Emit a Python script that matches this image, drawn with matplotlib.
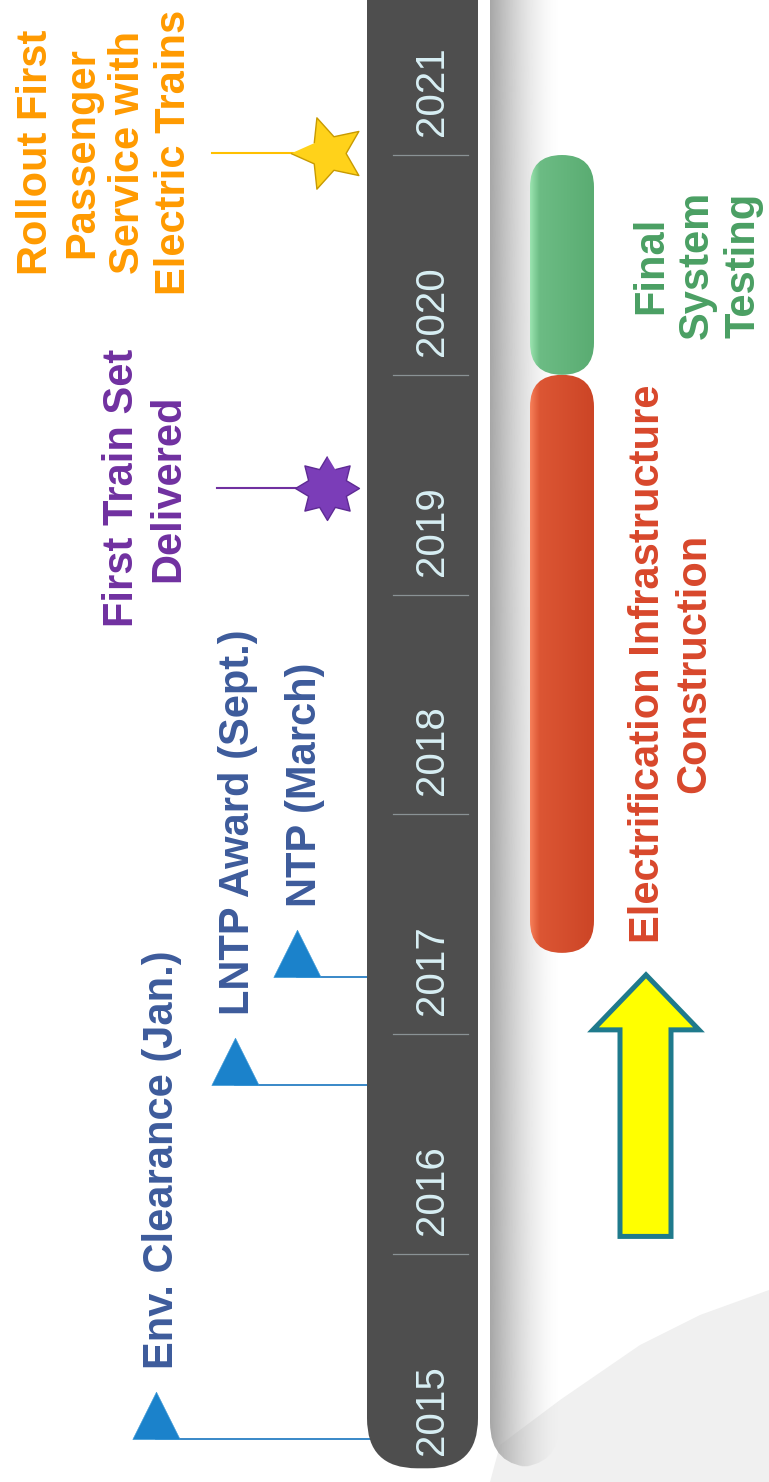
import numpy as np
import matplotlib
matplotlib.use("Agg")
import matplotlib.pyplot as plt
from matplotlib.patches import FancyBboxPatch, Polygon
from matplotlib.path import Path
from matplotlib.markers import MarkerStyle
from matplotlib.colors import LinearSegmentedColormap

plt.rcParams['font.family'] = ['Liberation Sans', 'DejaVu Sans']

# timeline years
years = [2015, 2016, 2017, 2018, 2019, 2020, 2021]

# milestones marked with a blue triangle
tri_labels = ["Env. Clearance (Jan.)", "LNTP Award (Sept.)", "NTP (March)"]
tri_dates = [2015.16, 2016.77, 2017.26]

# milestones marked with a star
star_labels = ["First Train Set\nDelivered",
               "Rollout First\nPassenger\nService with\nElectric Trains"]
star_dates = [2019.485, 2021.01]

# project phases
phase_labels = ["Electrification Infrastructure\nConstruction",
                "Final\nSystem\nTesting"]
phase_start = [2017.37, 2020.0]
phase_end = [2020.0, 2021.0]

# "we are here" arrow
arrow_from = 2016.08
arrow_to = 2017.27

# layout: x in pixels, y in years
PX_YEAR = 219.8
Y_BOT = 2016 - 228 / PX_YEAR
Y_TOP = 2016 + 1254 / PX_YEAR


def px(h):
    return h / PX_YEAR


def star_path(n, inner, start_deg):
    ang = np.deg2rad(start_deg + np.arange(2 * n) * 180 / n)
    rad = np.where(np.arange(2 * n) % 2 == 0, 1.0, inner)
    return Path(np.column_stack([rad * np.cos(ang), rad * np.sin(ang)]))


fig = plt.figure(figsize=(7.69, 14.82), dpi=100)
ax = fig.add_axes([0, 0, 1, 1])
ax.set_xlim(0, 769)
ax.set_ylim(Y_BOT, Y_TOP)
ax.axis('off')

# faint background picture in the corner
wm = [(490, 1482), (500, 1445), (560, 1400), (640, 1345), (700, 1315),
      (769, 1290), (769, 1482)]
ax.add_patch(Polygon([(x / 769, 1 - y / 1482) for x, y in wm], closed=True,
                     transform=ax.transAxes, fc='#f0f0f0', ec='none', zorder=0))


def gradient_fill(x0, w, y0, h, cmap, rounding, alpha=None, z=2):
    clip = FancyBboxPatch((x0, y0), w, h, boxstyle=f"round,pad=0,rounding_size={rounding}",
                          mutation_aspect=1 / PX_YEAR, fc='none', ec='none', zorder=z)
    ax.add_patch(clip)
    grad = np.linspace(0, 1, 256).reshape(1, -1)
    rgba = cmap(grad)
    if alpha is not None:
        rgba[..., 3] = alpha(grad)
    im = ax.imshow(rgba, extent=(x0, x0 + w, y0, y0 + h), aspect='auto',
                   origin='lower', zorder=z, interpolation='bilinear')
    im.set_clip_path(clip)


# shadow band right of the timeline
gray = LinearSegmentedColormap.from_list('g', ['#a6a6a6', '#a6a6a6'])
gradient_fill(490, 70, 2015.03, Y_TOP + 1 - 2015.03, gray, 45,
              alpha=lambda t: (1 - t) ** 1.6, z=1)

# timeline bar
ax.add_patch(FancyBboxPatch((367, 2015.025), 111, Y_TOP + 1 - 2015.025,
                            boxstyle="round,pad=0,rounding_size=50",
                            mutation_aspect=1 / PX_YEAR, fc='#4e4e4e', ec='none', zorder=2))

for yr in years:
    ax.text(432, yr + px(19), str(yr), rotation=90, ha='center', va='bottom',
            fontsize=29, color='#d8eff4', zorder=4)
for yr in years[1:]:
    ax.plot([393, 468], [yr, yr], color='#8a9295', lw=0.9, zorder=3)

# triangle milestones
tri_marker = MarkerStyle(Path([(-1, 0), (1, 0), (0, 2), (-1, 0)],
                              [Path.MOVETO, Path.LINETO, Path.LINETO, Path.CLOSEPOLY]))
tri_x = [156, 235, 297]
tri_text_x = [162, 238, 305]
for lab, d, tx, lx in zip(tri_labels, tri_dates, tri_x, tri_text_x):
    ax.plot([tx, 375], [d, d], color='#2a7fc4', lw=1.3, zorder=1)
    ax.plot(tx, d, marker=tri_marker, ms=68, color='#1b82cb', mec='#3d9ad8', mew=0.5, zorder=3)
    ax.text(lx, d + px(70), lab, rotation=90, ha='center', va='bottom',
            fontsize=30, fontweight='bold', color='#3d5b9b', zorder=4)

# star milestones
star_markers = [MarkerStyle(star_path(8, 0.64, 90)), MarkerStyle(star_path(5, 0.47, 180))]
star_sizes = [46, 54]
star_face = ['#7b3db8', '#ffd21a']
star_edge = ['#5e2a94', '#c89a00']
star_line = ['#7030a0', '#ffc000']
star_x = [327, 328]
line_x = [217, 212]
star_text_x = [145, 105]
star_text_col = ['#7030a0', '#ff9a00']
for i, (lab, d) in enumerate(zip(star_labels, star_dates)):
    ax.plot([line_x[i], star_x[i]], [d, d], color=star_line[i], lw=1.5, zorder=1)
    ax.plot(star_x[i], d, marker=star_markers[i], ms=star_sizes[i], color=star_face[i],
            mec=star_edge[i], mew=1, zorder=3)
    ax.text(star_text_x[i], d, lab, rotation=90, ha='center', va='center',
            multialignment='center', fontsize=30, fontweight='bold',
            color=star_text_col[i], linespacing=1.2, zorder=4)

# phase bars
phase_cmaps = [
    LinearSegmentedColormap.from_list('r', [(0, '#f7805a'), (0.15, '#dc5634'), (1, '#cc4526')]),
    LinearSegmentedColormap.from_list('gr', [(0, '#9be4b0'), (0.15, '#6cbc84'), (1, '#5aac72')]),
]
phase_text_col = ['#d8472b', '#4a9f63']
phase_text_x = [671, 697]
for lab, s, e, cm, col, lx in zip(phase_labels, phase_start, phase_end,
                                   phase_cmaps, phase_text_col, phase_text_x):
    gradient_fill(530, 64, s, e - s, cm, 32, z=2)
    ax.text(lx, (s + e) / 2, lab, rotation=90, ha='center', va='center',
            multialignment='center', fontsize=30, fontweight='bold',
            color=col, linespacing=1.2, zorder=4)

# yellow arrow
cx = 646
head = px(55)
arrow = [(620, arrow_from), (671, arrow_from), (671, arrow_to - head),
         (699, arrow_to - head), (cx, arrow_to), (593, arrow_to - head),
         (620, arrow_to - head)]
ax.add_patch(Polygon(arrow, closed=True, fc='#ffff00', ec='#1f7a8c', lw=3.6,
                     joinstyle='miter', zorder=3))

ax.set_xlim(0, 769)
ax.set_ylim(Y_BOT, Y_TOP)
fig.savefig('out.png', dpi=100)
